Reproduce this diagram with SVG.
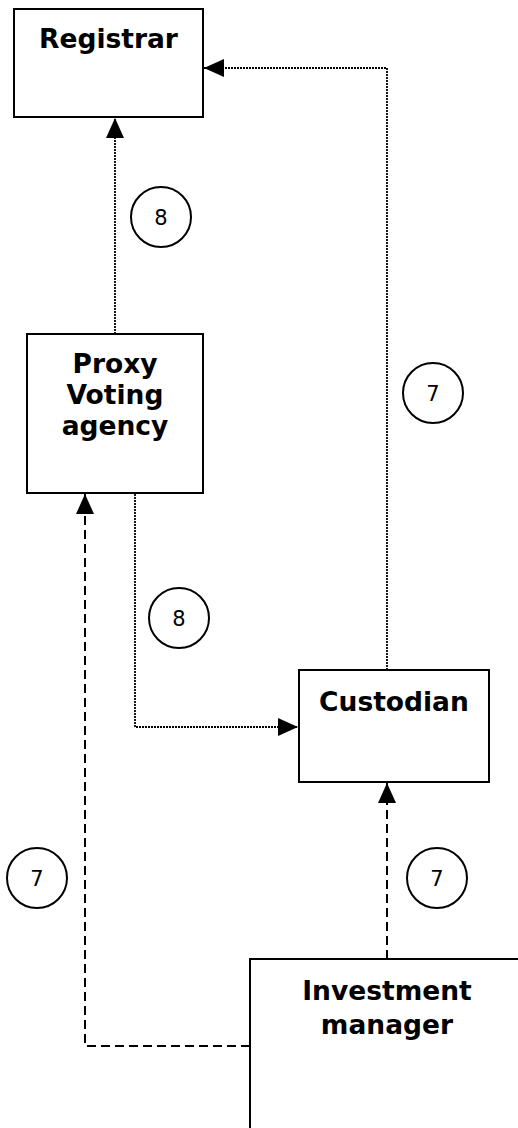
<svg xmlns="http://www.w3.org/2000/svg" width="518" height="1128" viewBox="0 0 518 1128">
<style>
.box{fill:#fff;stroke:#000;stroke-width:2}
.lbl{font-family:"DejaVu Sans",Verdana,sans-serif;font-weight:bold;font-size:26.5px;text-anchor:middle;fill:#000}
.num{font-family:"DejaVu Sans",Verdana,sans-serif;font-size:21px;text-anchor:middle;fill:#000}
.circ{fill:none;stroke:#000;stroke-width:2}
.dot{fill:none;stroke:#000;stroke-width:1.8;stroke-dasharray:2 1}
.dash{fill:none;stroke:#000;stroke-width:2;stroke-dasharray:9 5}
</style>
<defs>
<marker id="ah" markerUnits="userSpaceOnUse" markerWidth="20" markerHeight="20" viewBox="0 0 20 20" refX="20" refY="10" orient="auto">
<path d="M0,1 L20,10 L0,19 Z" fill="#000"/>
</marker>
</defs>
<rect width="518" height="1128" fill="#fff"/>
<g id="connectors">
<path class="dot" d="M387,670 V68 H204" marker-end="url(#ah)"/>
<path class="dot" d="M115,334 V118" marker-end="url(#ah)"/>
<path class="dot" d="M135,494 V727 H298" marker-end="url(#ah)"/>
<path class="dash" d="M387,959 V783" marker-end="url(#ah)"/>
<path class="dash" d="M250,1046 H85 V494" marker-end="url(#ah)"/>
</g>
<g id="registrar">
<rect class="box" x="14" y="9" width="189" height="108"/>
<text class="lbl" x="108.5" y="48">Registrar</text>
</g>
<g id="proxy">
<rect class="box" x="27" y="334" width="176" height="159"/>
<text class="lbl" x="115" y="373">Proxy</text>
<text class="lbl" x="115" y="404">Voting</text>
<text class="lbl" x="115" y="435">agency</text>
</g>
<g id="custodian">
<rect class="box" x="299" y="670" width="190" height="112"/>
<text class="lbl" x="394" y="711">Custodian</text>
</g>
<g id="investment">
<rect class="box" x="250" y="959" width="290" height="200"/>
<text class="lbl" x="387" y="1000">Investment</text>
<text class="lbl" x="387" y="1034">manager</text>
</g>
<g id="badge-8a"><circle class="circ" cx="161" cy="217" r="30"/><text class="num" x="161" y="225">8</text></g>
<g id="badge-8b"><circle class="circ" cx="179" cy="618" r="30"/><text class="num" x="179" y="626">8</text></g>
<g id="badge-7a"><circle class="circ" cx="433" cy="393" r="30"/><text class="num" x="433" y="401">7</text></g>
<g id="badge-7b"><circle class="circ" cx="37" cy="878" r="30"/><text class="num" x="37" y="886">7</text></g>
<g id="badge-7c"><circle class="circ" cx="437" cy="878" r="30"/><text class="num" x="437" y="886">7</text></g>
</svg>
